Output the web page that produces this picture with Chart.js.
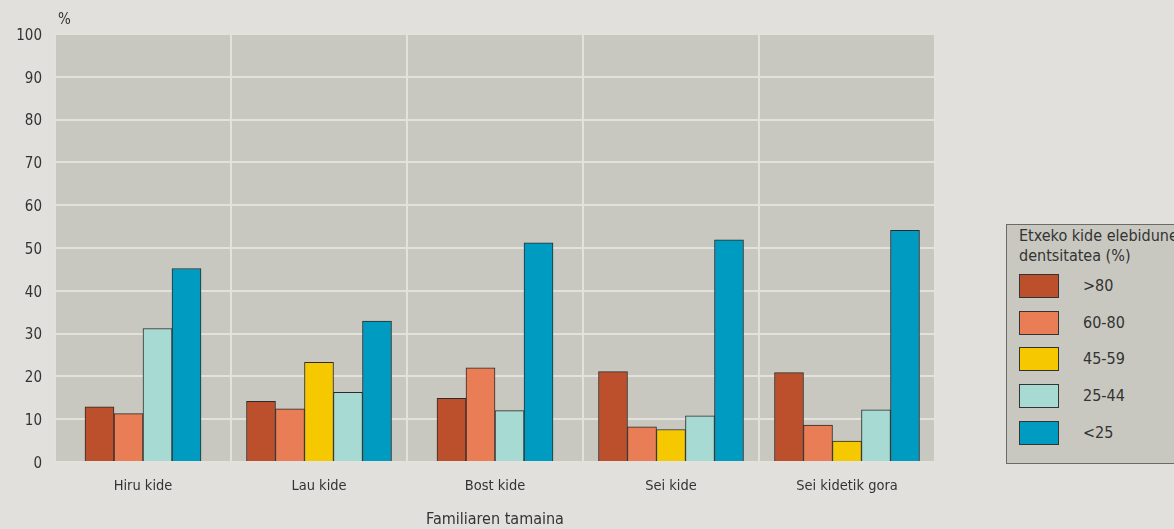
<!DOCTYPE html>
<html><head><meta charset="utf-8">
<script src="https://cdn.jsdelivr.net/npm/chart.js@4/dist/chart.umd.min.js"></script>
<style>
html,body{margin:0;padding:0;width:1174px;height:529px;overflow:hidden;background:#E1E0DC;font-family:"DejaVu Sans Condensed","Liberation Sans Narrow",sans-serif;color:#333;}
#wrap{position:absolute;left:0;top:0;width:1174px;height:529px;}
#legend{position:absolute;left:1006px;top:224px;width:200px;height:240px;background:#C8C8C0;border:1px solid #6a6a66;box-sizing:border-box;}
#legend .title{position:absolute;left:12px;top:1px;font-size:16px;line-height:20px;white-space:nowrap;color:#333;}
#legend .item{position:absolute;left:12px;height:24px;}
#legend .sw{position:absolute;left:0;top:0;width:40px;height:24px;box-sizing:border-box;border:1px solid #333;}
#legend .lab{position:absolute;left:64px;top:0;line-height:24px;font-size:16px;white-space:nowrap;color:#333;}
</style></head><body>
<div id="wrap"><canvas id="c" width="1174" height="529"></canvas></div>
<div id="legend"></div>
<script>
const categories = ['Hiru kide','Lau kide','Bost kide','Sei kide','Sei kidetik gora'];
const seriesLabels = ['>80','60-80','45-59','25-44','<25'];
const over80   = [12.9, 14.2, 14.9, 21.1, 20.9];
const s60to80  = [11.3, 12.4, 22.0, 8.2, 8.6];
const s45to59  = [null, 23.3, null, 7.6, 4.9];
const s25to44  = [31.2, 16.3, 12.0, 10.8, 12.2];
const under25  = [45.2, 32.9, 51.2, 51.9, 54.1];
const yTickValues = [0,10,20,30,40,50,60,70,80,90,100];
const legendTitleLines = ['Etxeko kide elebidunen', 'dentsitatea (%)'];
const xTitle = 'Familiaren tamaina';
const yUnit = '%';

const colors = ['#BD502C','#E97D56','#F5C800','#A6DAD3','#009BC0'];
const seriesData = [over80, s60to80, s45to59, s25to44, under25];

const FONT = '"DejaVu Sans Condensed","Liberation Sans Narrow",sans-serif';

const bgPlugin = {
  id:'bg',
  beforeDraw(chart){
    const {ctx, chartArea:a} = chart;
    ctx.save();
    ctx.fillStyle = '#C8C8C0';
    ctx.fillRect(a.left, a.top, a.right-a.left, a.bottom-a.top);
    ctx.restore();
  },
  afterDraw(chart){
    const {ctx, chartArea:a} = chart;
    ctx.save();
    ctx.font = '15px ' + FONT;
    ctx.fillStyle = '#333';
    ctx.textBaseline = 'middle';
    ctx.textAlign = 'left';
    ctx.fillText(yUnit, a.left + 3, 20);
    ctx.restore();
  }
};

new Chart(document.getElementById('c'), {
  type:'bar',
  data:{
    labels: categories,
    datasets: seriesData.map((d,i)=>({
      label: seriesLabels[i],
      data: d,
      backgroundColor: colors[i],
      borderColor: '#2b2b2b',
      borderWidth: 1,
      barThickness: 29,
      skipNull: true
    }))
  },
  options:{
    responsive:false,
    animation:false,
    layout:{padding:{top:34,right:239,left:0,bottom:0}},
    plugins:{legend:{display:false},tooltip:{enabled:false}},
    scales:{
      x:{
        offset:true,
        grid:{offset:true,color:'#E2E1DC',lineWidth:2,drawTicks:false},
        border:{display:false},
        ticks:{font:{family:FONT,size:14.5},color:'#333',padding:16},
        title:{display:true,text:xTitle,font:{family:FONT,size:16},color:'#333',padding:{top:0,bottom:0}},
        afterFit(s){ s.height = 67; }
      },
      y:{
        min:0,max:100,
        afterBuildTicks(s){ s.ticks = yTickValues.map(v=>({value:v})); },
        grid:{color:'#E2E1DC',lineWidth:2,drawTicks:false},
        border:{display:false},
        ticks:{font:{family:FONT,size:15},color:'#333',padding:13,labelOffset:2},
        afterFit(s){ s.width = 55; }
      }
    }
  },
  plugins:[bgPlugin]
});

// legend
const lg = document.getElementById('legend');
const t = document.createElement('div');
t.className='title';
legendTitleLines.forEach((line,i)=>{
  if(i) t.appendChild(document.createElement('br'));
  t.appendChild(document.createTextNode(line));
});
lg.appendChild(t);
seriesLabels.forEach((s,i)=>{
  const it = document.createElement('div');
  it.className='item';
  it.style.top = (49 + i*36.7) + 'px';
  const sw = document.createElement('div');
  sw.className='sw'; sw.style.background = colors[i];
  const lb = document.createElement('div');
  lb.className='lab'; lb.textContent = s;
  it.appendChild(sw); it.appendChild(lb);
  lg.appendChild(it);
});
</script>
</body></html>
